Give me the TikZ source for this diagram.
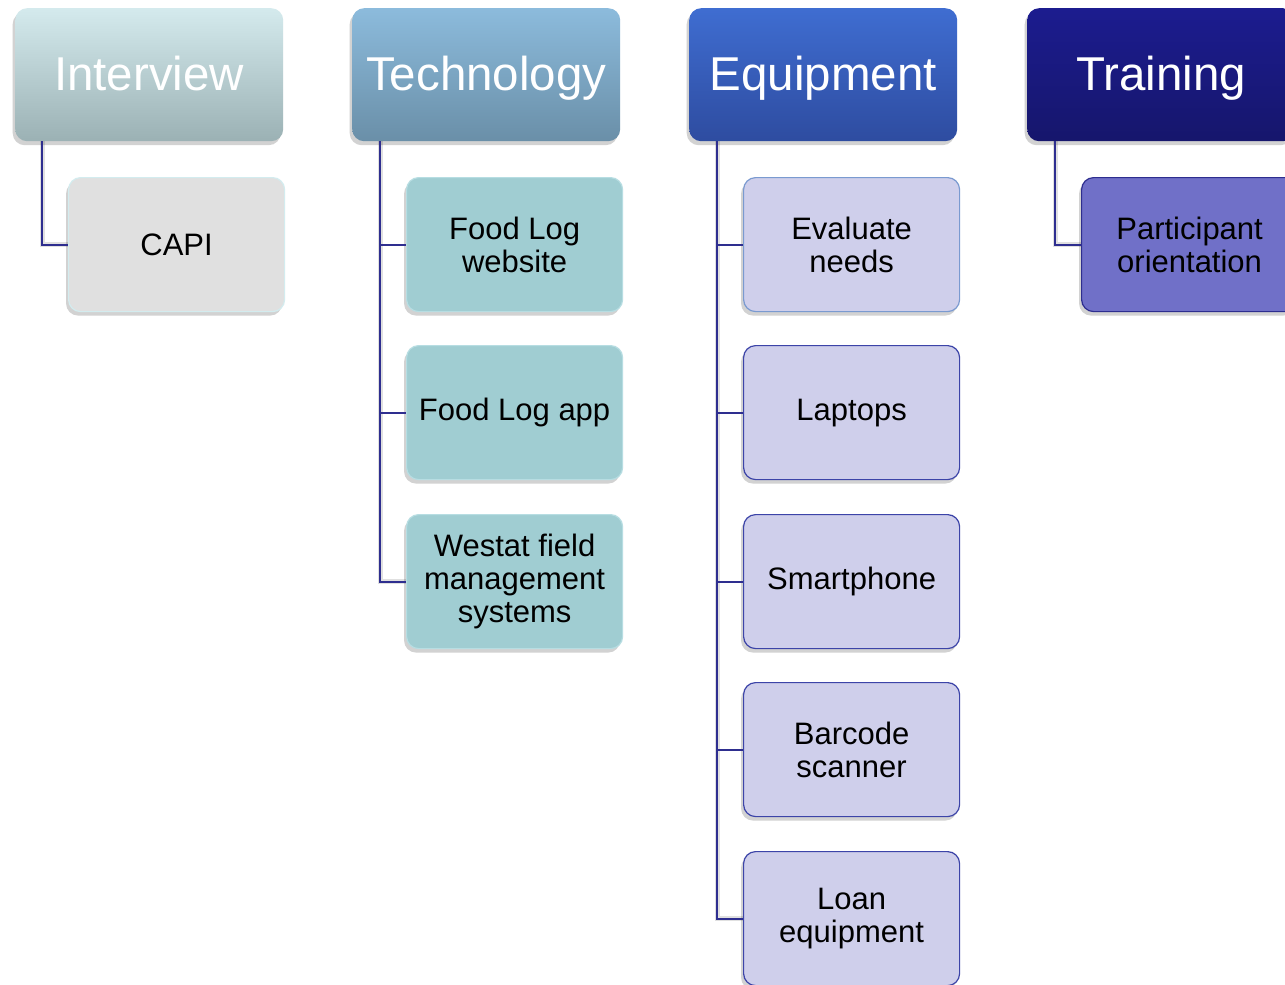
\documentclass[tikz,border=0pt]{standalone}
\usepackage{fontspec}
\setmainfont{Liberation Sans}
\usetikzlibrary{shadows}
\definecolor{lineblue}{HTML}{2E2E8F}
\definecolor{intT}{HTML}{D4EAED}\definecolor{intB}{HTML}{9BB1B4}
\definecolor{tecT}{HTML}{8CBBDC}\definecolor{tecB}{HTML}{6A8FA8}
\definecolor{equT}{HTML}{3F6DD1}\definecolor{equB}{HTML}{2E4CA0}
\definecolor{traT}{HTML}{1C1C8F}\definecolor{traB}{HTML}{16166C}
\definecolor{capiF}{HTML}{E0E0E0}\definecolor{capiD}{HTML}{D3ECEF}
\definecolor{tecF}{HTML}{A0CDD2}\definecolor{tecD}{HTML}{B7DDE2}
\definecolor{equF}{HTML}{CFCFEB}\definecolor{equD}{HTML}{7A9AD0}
\definecolor{equE}{HTML}{3C44A8}
\definecolor{traF}{HTML}{7070C8}\definecolor{traD}{HTML}{2E2E8F}
\tikzset{
  shad/.style={drop shadow={shadow xshift=-2.5pt,shadow yshift=-4pt,opacity=0.25,fill=black!70}},
  headbox/.style={shad,rounded corners=12pt,anchor=north west,minimum width=268pt,minimum height=133pt,
    text=white,font=\fontsize{47.5}{50}\selectfont,inner sep=0pt,text height=36pt,text depth=5pt},
  kidbox/.style={shad,rounded corners=12pt,anchor=north west,minimum width=216pt,minimum height=134pt,
    text=black,font=\fontsize{31}{33}\selectfont,align=center,inner sep=0pt,line width=1.2pt},
  link/.style={draw=lineblue,line width=1.8pt},
  linkshadow/.style={draw=black,opacity=0.12,line width=5pt},
}
\begin{document}
\begin{tikzpicture}[x=1pt,y=-1pt]
\useasboundingbox (0,0) rectangle (1285,985);
\clip (0,0) rectangle (1285,985);
\fill[white] (0,0) rectangle (1285,985);
% connector anchors
\coordinate (ci) at (42,141);
\coordinate (ct) at (380,141);
\coordinate (ce) at (717,141);
\coordinate (cr) at (1055,141);
% headers
\node[headbox,top color=intT,bottom color=intB] (int) at (15,8) {Interview};
\node[headbox,top color=tecT,bottom color=tecB] (tec) at (352,8) {Technology};
\node[headbox,top color=equT,bottom color=equB] (equ) at (689,8) {Equipment};
\node[headbox,top color=traT,bottom color=traB] (tra) at (1027,8) {Training};
% children
\node[kidbox,fill=capiF,draw=capiD] (capi) at (68,177) {CAPI};
\node[kidbox,fill=tecF,draw=tecD] (t1) at (406,177) {Food Log\\website};
\node[kidbox,fill=tecF,draw=tecD] (t2) at (406,345) {Food Log app};
\node[kidbox,fill=tecF,draw=tecD] (t3) at (406,514) {Westat field\\management\\systems};
\node[kidbox,fill=equF,draw=equD] (e1) at (743,177) {Evaluate\\needs};
\node[kidbox,fill=equF,draw=equE] (e2) at (743,345) {Laptops};
\node[kidbox,fill=equF,draw=equE] (e3) at (743,514) {Smartphone};
\node[kidbox,fill=equF,draw=equE] (e4) at (743,682) {Barcode\\scanner};
\node[kidbox,fill=equF,draw=equE] (e5) at (743,851) {Loan\\equipment};
\node[kidbox,fill=traF,draw=traD] (p1) at (1081,177) {Participant\\orientation};
% connector shadows
\begin{scope}[xshift=-3pt,yshift=-3pt]
\draw[linkshadow] (ci) |- (capi.west);
\draw[linkshadow] (ct) |- (t3.west);
\draw[linkshadow] (ce) |- (e5.west);
\draw[linkshadow] (cr) |- (p1.west);
\end{scope}
% connectors
\draw[link] (ci) |- (capi.west);
\draw[link] (ct) |- (t1.west);
\draw[link] (ct) |- (t2.west);
\draw[link] (ct) |- (t3.west);
\draw[link] (ce) |- (e1.west);
\draw[link] (ce) |- (e2.west);
\draw[link] (ce) |- (e3.west);
\draw[link] (ce) |- (e4.west);
\draw[link] (ce) |- (e5.west);
\draw[link] (cr) |- (p1.west);
\end{tikzpicture}
\end{document}
